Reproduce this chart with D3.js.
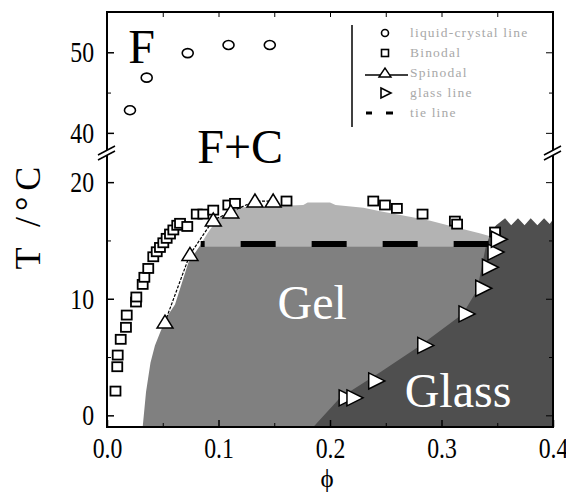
<!DOCTYPE html>
<html>
<head>
<meta charset="utf-8">
<script src="https://cdn.jsdelivr.net/npm/d3@7"></script>
<style>
  body { margin: 0; background: #fff; }
  svg text { font-family: "Liberation Serif", "Times New Roman", serif; }
</style>
</head>
<body>
<div id="chart"></div>
<script>
'use strict';

// Chart values (phi = volume fraction, T in °C)

// liquid-crystal line (circles)
const lcPhi = [0.0206, 0.0356, 0.0724, 0.109, 0.146];
const lcT   = [42.8, 46.85, 49.9, 50.9, 50.9];

// binodal (squares)
const binPhi = [0.0076, 0.0092, 0.0096, 0.0123, 0.017, 0.0177, 0.026, 0.0263, 0.032, 0.0335,
                0.037, 0.0415, 0.0446, 0.0475, 0.0505, 0.0535, 0.0565, 0.0595, 0.063, 0.0655,
                0.072, 0.0805, 0.0864, 0.0953, 0.1088, 0.1148, 0.161, 0.2388, 0.2493, 0.26,
                0.283, 0.312, 0.314, 0.348];
const binT   = [2.08, 4.17, 5.17, 6.52, 7.55, 8.6, 9.72, 10.15, 11.23, 11.84,
                12.6, 13.6, 14.03, 14.4, 14.8, 15.18, 15.55, 15.9, 16.3, 16.47,
                16.2, 17.26, 17.26, 17.6, 18.04, 18.18, 18.38, 18.38, 18.04, 17.75,
                17.26, 16.66, 16.4, 15.72];

// spinodal (up triangles joined by a line)
const spinPhi = [0.052, 0.0744, 0.0953, 0.111, 0.1327, 0.149];
const spinT   = [8.0, 13.8, 16.75, 17.45, 18.38, 18.38];

// glass line (right triangles)
const glassPhi = [0.2145, 0.2215, 0.241, 0.285, 0.322, 0.337, 0.343, 0.348, 0.351];
const glassT   = [1.5, 1.5, 2.95, 6.0, 8.7, 10.9, 12.7, 14.0, 15.1];

// tie line
const tiePhi = [0.084, 0.344];
const tieT = 14.7;

// shaded regions, outlines as [phi, T]
const gelRegion = [[0.032, -1], [0.035, 2], [0.039, 4.5], [0.043, 6], [0.048, 7.2], [0.054, 8.5],
                   [0.061, 9.5], [0.067, 11.3], [0.073, 13.1], [0.083, 14.5], [0.4, 14.5], [0.4, -1]];
const twoPhaseRegion = [[0.083, 14.5], [0.09, 15.6], [0.0996, 16.9], [0.11, 17.5], [0.122, 17.85],
                        [0.176, 18.05], [0.18, 18.25], [0.2, 18.25], [0.205, 18.05], [0.23, 17.8],
                        [0.245, 17.5], [0.274, 17.0], [0.29, 16.7], [0.31, 16.2], [0.335, 15.6],
                        [0.346, 15.3], [0.346, 14.5]];
const glassRegion = [[0.185, -1], [0.209, 1.5], [0.245, 3.7], [0.281, 6.0], [0.319, 8.7], [0.332, 10.75],
                     [0.336, 12.7], [0.34, 14.6], [0.345, 15.8], [0.349, 16.3], [0.357, 16.9],
                     [0.3625, 16.3], [0.3686, 16.9], [0.3745, 16.3], [0.38, 16.9], [0.386, 16.3],
                     [0.392, 16.9], [0.397, 16.4], [0.4, 16.8], [0.4, -1]];

// axis ticks
const xTicks = [0.0, 0.1, 0.2, 0.3, 0.4];
const xMinor = [0.05, 0.15, 0.25, 0.35];
const yLowTicks = [0, 10, 20];
const yLowMinor = [5, 15];
const yHighTicks = [40, 50];
const yHighMinor = [45];

// region labels
const regionLabels = [
  { text: 'F',     phi: 0.019, T: 48.7, fill: '#000' },
  { text: 'F+C',   phi: 0.081, T: 36.3, fill: '#000' },
  { text: 'Gel',   phi: 0.153, T: 8.3,  fill: '#fff' },
  { text: 'Glass', phi: 0.267, T: 0.7,  fill: '#fff' }
];

const legendItems = ['liquid-crystal line', 'Binodal', 'Spinodal', 'glass line', 'tie line'];

// ---------------------------------------------------------------
const width = 566, height = 493;
const pLeft = 107, pRight = 553, pTop = 12, pBottom = 427, brk = 153;

const svg = d3.select('#chart').append('svg')
  .attr('width', width)
  .attr('height', height);

const x = d3.scaleLinear().domain([0, 0.4]).range([pLeft, pRight]);
const yLow = d3.scaleLinear().domain([-1, 22.5]).range([pBottom, brk]);
const yHigh = d3.scaleLinear().domain([37.5, 55]).range([brk, pTop]);
const y = t => t > 30 ? yHigh(t) : yLow(t);

const line = d3.line().x(d => x(d[0])).y(d => y(d[1]));

// Regions
const regions = svg.append('g');
regions.append('path').attr('d', line(gelRegion) + 'Z').attr('fill', '#808080');
regions.append('path').attr('d', line(twoPhaseRegion) + 'Z').attr('fill', '#b3b3b3');
regions.append('path').attr('d', line(glassRegion) + 'Z').attr('fill', '#4f4f4f');

// Tie line
svg.append('line')
  .attr('x1', x(tiePhi[0])).attr('x2', x(tiePhi[1]))
  .attr('y1', y(tieT)).attr('y2', y(tieT))
  .attr('stroke', '#000')
  .attr('stroke-width', 6)
  .attr('stroke-dasharray', '35 36')
  .attr('stroke-dashoffset', 31);

// Spinodal line
svg.append('path')
  .attr('d', line(d3.zip(spinPhi, spinT)))
  .attr('fill', 'none')
  .attr('stroke', '#000')
  .attr('stroke-width', 1.2)
  .attr('stroke-dasharray', '3 1.5');

const upTri = 'M-8,6L0,-7L8,6Z';
const rightTri = 'M-7,-8L9,0L-7,8Z';

// Binodal squares
svg.append('g').selectAll('rect')
  .data(d3.zip(binPhi, binT))
  .join('rect')
  .attr('x', d => x(d[0]) - 5)
  .attr('y', d => y(d[1]) - 4.5)
  .attr('width', 10)
  .attr('height', 9)
  .attr('fill', '#fff')
  .attr('stroke', '#000')
  .attr('stroke-width', 1.8);

// Spinodal triangles
svg.append('g').selectAll('path')
  .data(d3.zip(spinPhi, spinT))
  .join('path')
  .attr('d', upTri)
  .attr('transform', d => `translate(${x(d[0])},${y(d[1])})`)
  .attr('fill', '#fff')
  .attr('stroke', '#000')
  .attr('stroke-width', 1.5);

// Glass line triangles
svg.append('g').selectAll('path')
  .data(d3.zip(glassPhi, glassT))
  .join('path')
  .attr('d', rightTri)
  .attr('transform', d => `translate(${x(d[0])},${y(d[1])})`)
  .attr('fill', '#fff')
  .attr('stroke', '#000')
  .attr('stroke-width', 1.5);

// Liquid-crystal circles
svg.append('g').selectAll('ellipse')
  .data(d3.zip(lcPhi, lcT))
  .join('ellipse')
  .attr('cx', d => x(d[0]))
  .attr('cy', d => y(d[1]))
  .attr('rx', 5.5)
  .attr('ry', 4.5)
  .attr('fill', '#fff')
  .attr('stroke', '#000')
  .attr('stroke-width', 1.6);

// Region labels
svg.append('g').selectAll('text')
  .data(regionLabels)
  .join('text')
  .attr('x', d => x(d.phi))
  .attr('y', d => y(d.T))
  .attr('font-size', 48)
  .attr('fill', d => d.fill)
  .text(d => d.text);

// Frame
svg.append('rect')
  .attr('x', pLeft).attr('y', pTop)
  .attr('width', pRight - pLeft).attr('height', pBottom - pTop)
  .attr('fill', 'none')
  .attr('stroke', '#000')
  .attr('stroke-width', 2);

// Axes, ticks drawn inward
const squash = 0.82;
function styleLabels(g, dx, dy) {
  g.select('.domain').remove();
  g.selectAll('.tick line').attr('stroke-width', 1.5);
  g.selectAll('.tick text')
    .attr('font-size', 29)
    .attr('font-family', '"Liberation Serif", serif')
    .attr('transform', `scale(${squash},1)`)
    .attr('x', dx / squash);
  if (dy !== undefined) g.selectAll('.tick text').attr('y', dy).attr('dy', null);
}

svg.append('g')
  .attr('transform', `translate(0,${pBottom})`)
  .call(d3.axisBottom(x).tickValues(xTicks).tickFormat(d3.format('.1f')).tickSize(-7))
  .call(g => styleLabels(g, 0, 31));
svg.append('g')
  .attr('transform', `translate(0,${pBottom})`)
  .call(d3.axisBottom(x).tickValues(xMinor).tickFormat('').tickSize(-4))
  .call(g => g.select('.domain').remove());
svg.append('g')
  .attr('transform', `translate(0,${pTop})`)
  .call(d3.axisTop(x).tickValues(xTicks.concat(xMinor)).tickFormat('').tickSize(-5))
  .call(g => g.select('.domain').remove());

[[yLow, yLowTicks, yLowMinor], [yHigh, yHighTicks, yHighMinor]].forEach(([sc, major, minor]) => {
  svg.append('g')
    .attr('transform', `translate(${pLeft},0)`)
    .call(d3.axisLeft(sc).tickValues(major).tickSize(-7).tickPadding(13))
    .call(g => styleLabels(g, -13));
  svg.append('g')
    .attr('transform', `translate(${pLeft},0)`)
    .call(d3.axisLeft(sc).tickValues(minor).tickFormat('').tickSize(-4))
    .call(g => g.select('.domain').remove());
  svg.append('g')
    .attr('transform', `translate(${pRight},0)`)
    .call(d3.axisRight(sc).tickValues(major).tickFormat('').tickSize(-7))
    .call(g => g.select('.domain').remove());
  svg.append('g')
    .attr('transform', `translate(${pRight},0)`)
    .call(d3.axisRight(sc).tickValues(minor).tickFormat('').tickSize(-4))
    .call(g => g.select('.domain').remove());
});

// Axis break marks
[pLeft, pRight].forEach(bx => {
  svg.append('rect')
    .attr('x', bx - 2).attr('y', brk - 3).attr('width', 4).attr('height', 5)
    .attr('fill', '#fff');
  [-3, 2].forEach(off => {
    svg.append('line')
      .attr('x1', bx - 9).attr('y1', brk + off + 5)
      .attr('x2', bx + 8).attr('y2', brk + off - 4)
      .attr('stroke', '#000')
      .attr('stroke-width', 1.5);
  });
});

// Axis titles
svg.append('text')
  .attr('transform', `translate(40,215) rotate(-90)`)
  .attr('text-anchor', 'middle')
  .attr('font-size', 36)
  .attr('letter-spacing', 6)
  .text('T /°C');

svg.append('text')
  .attr('x', 327).attr('y', 487)
  .attr('text-anchor', 'middle')
  .attr('font-size', 25)
  .text('ϕ');

// Legend
const legend = svg.append('g');
legend.append('line')
  .attr('x1', 352).attr('x2', 352).attr('y1', 25).attr('y2', 127)
  .attr('stroke', '#000').attr('stroke-width', 1.5);

const lx = 385, ly0 = 33, step = 20;
legend.append('ellipse')
  .attr('cx', lx).attr('cy', ly0).attr('rx', 3.5).attr('ry', 3.5)
  .attr('fill', '#fff').attr('stroke', '#000').attr('stroke-width', 1.6);
legend.append('rect')
  .attr('x', lx - 3.5).attr('y', ly0 + step - 3.5).attr('width', 7).attr('height', 7)
  .attr('fill', '#fff').attr('stroke', '#000').attr('stroke-width', 1.6);
legend.append('line')
  .attr('x1', 365).attr('x2', 408).attr('y1', ly0 + 2 * step + 2).attr('y2', ly0 + 2 * step + 2)
  .attr('stroke', '#000').attr('stroke-width', 1.3);
legend.append('path')
  .attr('d', 'M-6,4L0,-5L6,4Z')
  .attr('transform', `translate(${lx},${ly0 + 2 * step})`)
  .attr('fill', '#fff').attr('stroke', '#000').attr('stroke-width', 1.4);
legend.append('path')
  .attr('d', 'M-4,-5L6,0L-4,5Z')
  .attr('transform', `translate(${lx},${ly0 + 3 * step})`)
  .attr('fill', '#fff').attr('stroke', '#000').attr('stroke-width', 1.6);
[[366, 372], [386, 393]].forEach(([a, b]) => {
  legend.append('line')
    .attr('x1', a).attr('x2', b).attr('y1', ly0 + 4 * step).attr('y2', ly0 + 4 * step)
    .attr('stroke', '#000').attr('stroke-width', 3);
});
legend.selectAll('text.leg')
  .data(legendItems)
  .join('text')
  .attr('class', 'leg')
  .attr('x', 410)
  .attr('y', (d, i) => ly0 + i * step + 4)
  .attr('font-size', 13.5)
  .attr('letter-spacing', 1.2)
  .attr('fill', '#a8a8a8')
  .text(d => d);
</script>
</body>
</html>
